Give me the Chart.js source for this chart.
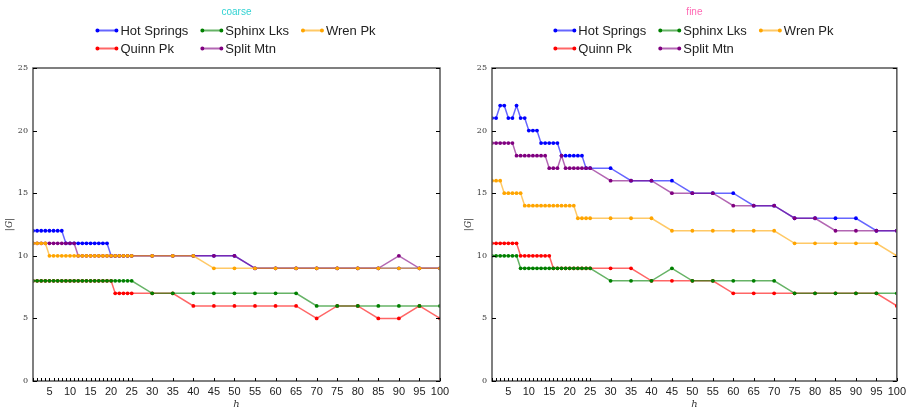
<!DOCTYPE html>
<html>
<head>
<meta charset="utf-8">
<script src="https://cdn.jsdelivr.net/npm/chart.js@4.4.0/dist/chart.umd.min.js"></script>
<style>
    body { margin: 0; background: #fff; }
    #wrap { position: relative; width: 910px; height: 410px; }
    canvas { position: absolute; top: 0; }
</style>
</head>
<body>
<div id="wrap">
    <canvas id="coarseChart" width="455" height="410" style="left:0"></canvas>
    <canvas id="fineChart" width="455" height="410" style="left:455px"></canvas>
</div>
<script>
// h values sampled: every step up to 25, then every 5
var hValues = [1, 2, 3, 4, 5, 6, 7, 8, 9, 10, 11, 12, 13, 14, 15, 16, 17, 18, 19, 20, 21, 22, 23, 24, 25,
    30, 35, 40, 45, 50, 55, 60, 65, 70, 75, 80, 85, 90, 95, 100];

var stationNames = ['Hot Springs', 'Sphinx Lks', 'Wren Pk', 'Quinn Pk', 'Split Mtn'];
var stationColors = ['#0000ff', '#008000', '#ffa500', '#ff0000', '#800080'];
var yTicks = [0, 5, 10, 15, 20, 25];

// coarse grid
var coarseHotSprings = [12, 12, 12, 12, 12, 12, 12, 12, 11, 11, 11, 11, 11, 11, 11, 11, 11, 11, 11, 10, 10, 10, 10, 10, 10,
    10, 10, 10, 10, 10, 9, 9, 9, 9, 9, 9, 9, 9, 9, 9];
var coarseSphinxLks = [8, 8, 8, 8, 8, 8, 8, 8, 8, 8, 8, 8, 8, 8, 8, 8, 8, 8, 8, 8, 8, 8, 8, 8, 8,
    7, 7, 7, 7, 7, 7, 7, 7, 6, 6, 6, 6, 6, 6, 6];
var coarseWrenPk = [11, 11, 11, 11, 10, 10, 10, 10, 10, 10, 10, 10, 10, 10, 10, 10, 10, 10, 10, 10, 10, 10, 10, 10, 10,
    10, 10, 10, 9, 9, 9, 9, 9, 9, 9, 9, 9, 9, 9, 9];
var coarseQuinnPk = [8, 8, 8, 8, 8, 8, 8, 8, 8, 8, 8, 8, 8, 8, 8, 8, 8, 8, 8, 8, 7, 7, 7, 7, 7,
    7, 7, 6, 6, 6, 6, 6, 6, 5, 6, 6, 5, 5, 6, 5];
var coarseSplitMtn = [11, 11, 11, 11, 11, 11, 11, 11, 11, 11, 11, 10, 10, 10, 10, 10, 10, 10, 10, 10, 10, 10, 10, 10, 10,
    10, 10, 10, 10, 10, 9, 9, 9, 9, 9, 9, 9, 10, 9, 9];

// fine grid
var fineHotSprings = [21, 21, 22, 22, 21, 21, 22, 21, 21, 20, 20, 20, 19, 19, 19, 19, 19, 18, 18, 18, 18, 18, 18, 17, 17,
    17, 16, 16, 16, 15, 15, 15, 14, 14, 13, 13, 13, 13, 12, 12];
var fineSphinxLks = [10, 10, 10, 10, 10, 10, 10, 9, 9, 9, 9, 9, 9, 9, 9, 9, 9, 9, 9, 9, 9, 9, 9, 9, 9,
    8, 8, 8, 9, 8, 8, 8, 8, 8, 7, 7, 7, 7, 7, 7];
var fineWrenPk = [16, 16, 16, 15, 15, 15, 15, 15, 14, 14, 14, 14, 14, 14, 14, 14, 14, 14, 14, 14, 14, 13, 13, 13, 13,
    13, 13, 13, 12, 12, 12, 12, 12, 12, 11, 11, 11, 11, 11, 10];
var fineQuinnPk = [11, 11, 11, 11, 11, 11, 11, 10, 10, 10, 10, 10, 10, 10, 10, 9, 9, 9, 9, 9, 9, 9, 9, 9, 9,
    9, 9, 8, 8, 8, 8, 7, 7, 7, 7, 7, 7, 7, 7, 6];
var fineSplitMtn = [19, 19, 19, 19, 19, 19, 18, 18, 18, 18, 18, 18, 18, 18, 17, 17, 17, 18, 17, 17, 17, 17, 17, 17, 17,
    16, 16, 16, 15, 15, 15, 14, 14, 14, 13, 13, 12, 12, 12, 12];

// stations are painted alphabetically, so later names sit on top
var drawOrder = [5, 3, 1, 4, 2];

function withAlpha(hex, a) {
    var r = parseInt(hex.substr(1, 2), 16);
    var g = parseInt(hex.substr(3, 2), 16);
    var b = parseInt(hex.substr(5, 2), 16);
    return 'rgba(' + r + ',' + g + ',' + b + ',' + a + ')';
}

// frame, inward ticks, axis titles, panel title and a column legend
var decorPlugin = {
    id: 'decor',
    afterDraw: function (chart, args, opts) {
        var ctx = chart.ctx;
        var area = chart.chartArea;
        var xs = chart.scales.x;
        var ys = chart.scales.y;
        var cx = (area.left + area.right) / 2;
        ctx.save();

        // box
        ctx.strokeStyle = '#555';
        ctx.lineWidth = 1.5;
        ctx.strokeRect(area.left, area.top, area.right - area.left, area.bottom - area.top);

        // ticks pointing into the plot
        ctx.strokeStyle = '#000';
        ctx.lineWidth = 1;
        ctx.beginPath();
        for (var i = 0; i < hValues.length; i++) {
            var px = Math.round(xs.getPixelForValue(hValues[i])) + 0.5;
            ctx.moveTo(px, area.bottom);
            ctx.lineTo(px, area.bottom - 3);
        }
        for (var j = 0; j < yTicks.length; j++) {
            var py = Math.round(ys.getPixelForValue(yTicks[j])) + 0.5;
            ctx.moveTo(area.left, py);
            ctx.lineTo(area.left + 4, py);
            ctx.moveTo(area.right, py);
            ctx.lineTo(area.right - 4, py);
        }
        ctx.stroke();

        // axis titles
        ctx.fillStyle = '#333';
        ctx.textAlign = 'center';
        ctx.textBaseline = 'middle';
        ctx.font = 'italic 10px "DejaVu Serif", serif';
        ctx.fillText('h', cx, 404);
        ctx.save();
        ctx.translate(area.left - 23, (area.top + area.bottom) / 2);
        ctx.rotate(-Math.PI / 2);
        ctx.font = 'italic 9px "DejaVu Serif", serif';
        ctx.fillText('|G|', 0, 0);
        ctx.restore();

        // panel title
        ctx.font = '10px "Liberation Sans", Arial, sans-serif';
        ctx.fillStyle = opts.titleColor;
        ctx.fillText(opts.title, cx, 12.5);

        // legend laid out in three aligned columns
        var sets = chart.data.datasets;
        var cols = 3, lineLen = 19, gap = 4, colPad = 14;
        ctx.font = '13px "Liberation Sans", Arial, sans-serif';
        var colW = [0, 0, 0];
        for (var k = 0; k < sets.length; k++) {
            var w = ctx.measureText(sets[k].label).width;
            colW[k % cols] = Math.max(colW[k % cols], lineLen + gap + w);
        }
        var total = colW[0] + colW[1] + colW[2] + colPad * 2;
        var x0 = cx - total / 2;
        ctx.textAlign = 'left';
        for (var m = 0; m < sets.length; m++) {
            var c = m % cols;
            var lx = x0;
            for (var q = 0; q < c; q++) lx += colW[q] + colPad;
            var ly = m < cols ? 30.5 : 48.5;
            var col = sets[m].pointBackgroundColor;
            ctx.strokeStyle = sets[m].borderColor;
            ctx.lineWidth = 2;
            ctx.beginPath();
            ctx.moveTo(lx, ly);
            ctx.lineTo(lx + lineLen, ly);
            ctx.stroke();
            ctx.fillStyle = col;
            ctx.beginPath();
            ctx.arc(lx, ly, 2, 0, Math.PI * 2);
            ctx.arc(lx + lineLen, ly, 2, 0, Math.PI * 2);
            ctx.fill();
            ctx.fillStyle = '#222';
            ctx.fillText(sets[m].label, lx + lineLen + gap, ly + 0.5);
        }
        ctx.restore();
    }
};

function makeDatasets(series) {
    var out = [];
    for (var i = 0; i < series.length; i++) {
        out.push({
            label: stationNames[i],
            data: hValues.map(function (h, k) { return { x: h, y: series[i][k] }; }),
            borderColor: withAlpha(stationColors[i], 0.6),
            backgroundColor: stationColors[i],
            pointBackgroundColor: stationColors[i],
            pointBorderColor: stationColors[i],
            pointRadius: 1.9,
            pointBorderWidth: 0,
            borderWidth: 1.5,
            tension: 0,
            order: drawOrder[i]
        });
    }
    return out;
}

function CanvasPanel(id, title, titleColor, series, axisWidth, rightPad) {
    new Chart(document.getElementById(id), {
        type: 'line',
        data: { datasets: makeDatasets(series) },
        options: {
            responsive: false,
            animation: false,
            layout: { padding: { top: 68, right: rightPad, left: 0, bottom: 0 } },
            plugins: {
                legend: { display: false },
                tooltip: { enabled: false },
                decor: { title: title, titleColor: titleColor }
            },
            scales: {
                x: {
                    type: 'linear',
                    min: 1,
                    max: 100,
                    afterBuildTicks: function (scale) {
                        scale.ticks = hValues.map(function (h) { return { value: h }; });
                    },
                    afterFit: function (scale) { scale.height = 29; },
                    grid: { display: false, drawTicks: false },
                    border: { display: false },
                    ticks: {
                        autoSkip: false,
                        maxRotation: 0,
                        padding: 4,
                        color: '#222',
                        font: { family: '"Liberation Sans", Arial, sans-serif', size: 11 },
                        callback: function (v) { return v % 5 === 0 ? String(v) : ''; }
                    }
                },
                y: {
                    min: 0,
                    max: 25,
                    afterBuildTicks: function (scale) {
                        scale.ticks = yTicks.map(function (v) { return { value: v }; });
                    },
                    afterFit: function (scale) { scale.width = axisWidth; },
                    grid: { display: false, drawTicks: false },
                    border: { display: false },
                    ticks: {
                        padding: 5,
                        color: '#333',
                        font: { family: '"DejaVu Serif", serif', size: 8 }
                    }
                }
            }
        },
        plugins: [decorPlugin]
    });
}

CanvasPanel('coarseChart', 'coarse', '#33d3d3',
    [coarseHotSprings, coarseSphinxLks, coarseWrenPk, coarseQuinnPk, coarseSplitMtn], 33, 15);
CanvasPanel('fineChart', 'fine', '#ff69b4',
    [fineHotSprings, fineSphinxLks, fineWrenPk, fineQuinnPk, fineSplitMtn], 37, 12);
</script>
</body>
</html>
